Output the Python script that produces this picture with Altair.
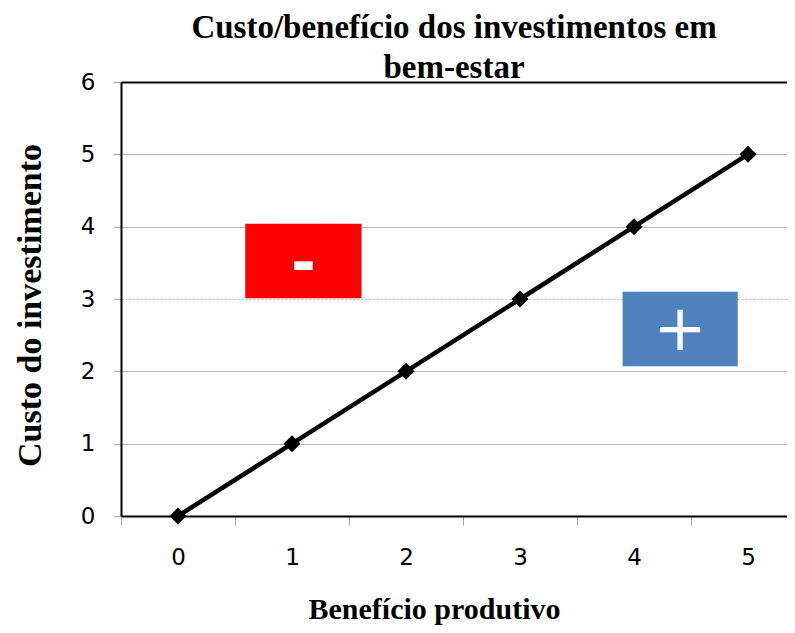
import altair as alt
import pandas as pd

# Data
benefit = [0, 1, 2, 3, 4, 5]
cost = [0, 1, 2, 3, 4, 5]
y_ticks = [0, 1, 2, 3, 4, 5, 6]

box_names = ["neg", "pos"]
box_symbols = ["-", "+"]
box_x0 = [0.59, 3.9]
box_x1 = [1.61, 4.91]
box_y0 = [3.01, 2.07]
box_y1 = [4.04, 3.1]
box_colors = ["#FF0000", "#4F81BD"]

line_df = pd.DataFrame({"b": benefit, "c": cost})
box_df = pd.DataFrame({
    "name": box_names, "sym": box_symbols,
    "x0": box_x0, "x1": box_x1, "y0": box_y0, "y1": box_y1, "col": box_colors,
})

xscale = alt.Scale(domain=[-0.5, 5.342], nice=False, zero=False)
yscale = alt.Scale(domain=[0, 6], nice=False, zero=False)

serif = "Liberation Serif"
sans = "DejaVu Sans"

x_axis = alt.Axis(
    values=benefit, format="d", grid=False, tickOffset=-57, labelOffset=57,
    domainColor="black", domainWidth=2, tickColor="#a6a6a6", tickSize=9,
    labelFont=sans, labelFontSize=23, labelColor="black", labelPadding=21,
    title="Benefício produtivo", titleFont=serif, titleFontSize=30,
    titleFontWeight="bold", titleColor="black",
    titleX=313, titleY=102, titleAlign="center", titleBaseline="alphabetic",
    titleAnchor="start",
)
y_axis = alt.Axis(
    values=y_ticks, format="d", grid=True,
    gridColor={"condition": {"test": "datum.value == 6", "value": "black"}, "value": "#b7b7b7"},
    gridWidth={"condition": {"test": "datum.value == 6", "value": 2}, "value": 1},
    gridDash={"condition": {"test": "datum.value == 3", "value": [2, 2]}, "value": []},
    domainColor="black", domainWidth=2, tickColor="#a6a6a6", tickSize=8,
    labelFont=sans, labelFontSize=23, labelColor="black", labelPadding=18,
    title="Custo do investimento", titleFont=serif, titleFontSize=34,
    titleFontWeight="bold", titleColor="black",
    titleX=-91, titleY=223, titleAlign="center", titleBaseline="middle",
    titleAnchor="start",
)

base = alt.Chart(line_df)
line = base.mark_line(color="black", strokeWidth=4.5).encode(
    x=alt.X("b:Q", scale=xscale, axis=x_axis),
    y=alt.Y("c:Q", scale=yscale, axis=y_axis),
)
pts = base.mark_point(shape="diamond", filled=True, size=290, color="black", opacity=1).encode(
    x=alt.X("b:Q", scale=xscale), y=alt.Y("c:Q", scale=yscale)
)

boxes = alt.Chart(box_df).mark_rect().encode(
    x=alt.X("x0:Q", scale=xscale), x2="x1:Q",
    y=alt.Y("y0:Q", scale=yscale), y2="y1:Q",
    color=alt.Color("col:N", scale=None),
)
sym_base = alt.Chart(box_df).transform_calculate(
    xm="(datum.x0 + datum.x1) / 2", ym="(datum.y0 + datum.y1) / 2"
)
minus = sym_base.transform_filter("datum.name == 'neg'").mark_text(
    color="white", font=sans, fontSize=60, fontWeight="bold", baseline="middle", align="center", dy=4
).encode(x=alt.X("xm:Q", scale=xscale), y=alt.Y("ym:Q", scale=yscale), text="sym:N")
plus = sym_base.transform_filter("datum.name == 'pos'").mark_text(
    color="white", font=sans, fontSize=64, baseline="middle", align="center", dy=2
).encode(x=alt.X("xm:Q", scale=xscale), y=alt.Y("ym:Q", scale=yscale), text="sym:N")

chart = alt.layer(boxes, minus, plus, line, pts).properties(
    width=666, height=434,
    padding={"left": 113, "top": 74, "right": 0, "bottom": 109},
    autosize=alt.AutoSizeParams(type="none"),
    title=alt.TitleParams(
        ["Custo/benefício dos investimentos em", "bem-estar"],
        font=serif, fontSize=33, fontWeight="bold", color="black",
        anchor="middle", lineHeight=40, offset=-14,
    ),
).configure_view(stroke=None).configure(background="white")

chart.save("out.html", embed_options={"renderer": "svg", "actions": False})
